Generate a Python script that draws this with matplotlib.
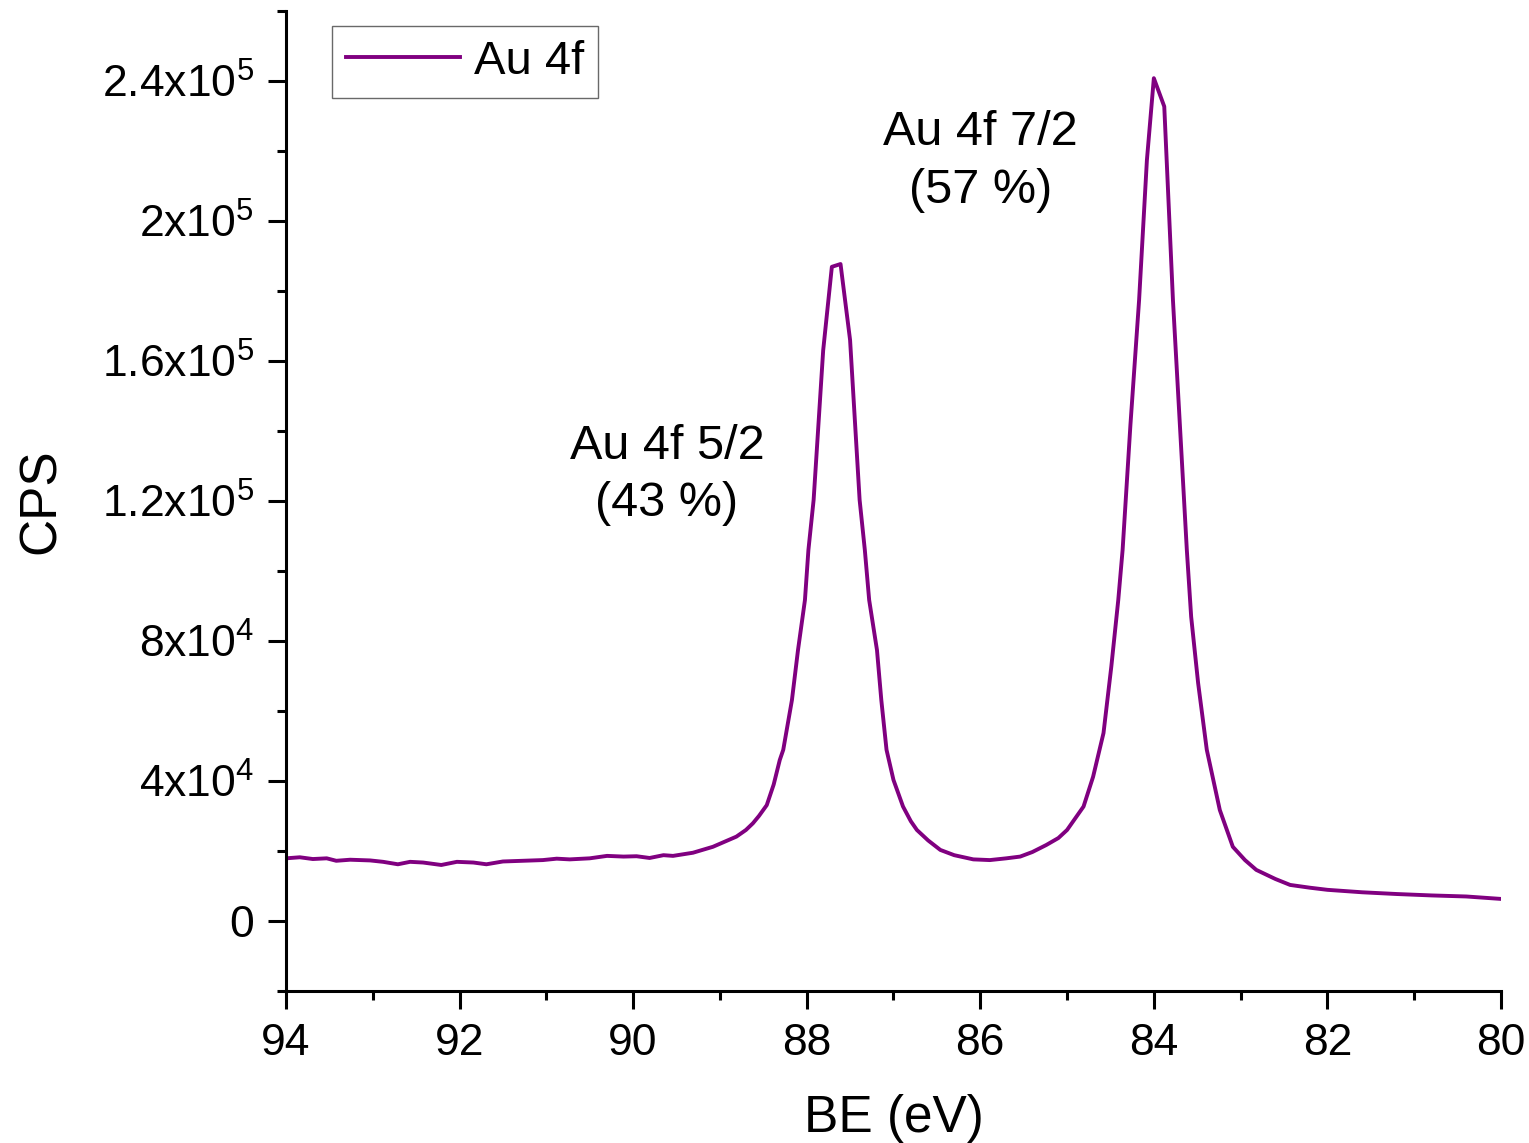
import matplotlib
matplotlib.use("Agg")
import matplotlib.pyplot as plt
from matplotlib.ticker import MultipleLocator, FixedLocator

plt.rcParams['font.family'] = ['Liberation Sans', 'DejaVu Sans']
plt.rcParams['mathtext.fontset'] = 'custom'
plt.rcParams['mathtext.rm'] = 'Liberation Sans'
plt.rcParams['mathtext.it'] = 'Liberation Sans'

# binding energy (eV) and counts
be = [94.00, 93.84, 93.69, 93.53, 93.42, 93.26, 93.03, 92.88, 92.71, 92.57,
      92.42, 92.21, 92.03, 91.84, 91.69, 91.50, 91.27, 91.04, 90.88, 90.73,
      90.50, 90.30, 90.11, 89.96, 89.81, 89.65, 89.54, 89.31, 89.08, 88.81,
      88.70, 88.62, 88.55, 88.46, 88.38, 88.31, 88.27, 88.17, 88.10, 88.02,
      87.98, 87.92, 87.81, 87.71, 87.61, 87.50, 87.39, 87.33, 87.28, 87.19,
      87.14, 87.08, 87.00, 86.89, 86.80, 86.73, 86.60, 86.46, 86.30, 86.08,
      85.89, 85.70, 85.54, 85.40, 85.24, 85.10, 85.00, 84.81, 84.70, 84.58,
      84.49, 84.41, 84.36, 84.27, 84.17, 84.08, 84.00, 83.88, 83.78, 83.70,
      83.62, 83.57, 83.49, 83.39, 83.24, 83.09, 82.95, 82.82, 82.60, 82.43,
      82.20, 82.00, 81.60, 81.20, 80.80, 80.40, 80.00]
cps = [17900, 18200, 17700, 17900, 17200, 17500, 17300, 16900, 16200, 16900,
       16700, 16000, 16900, 16700, 16200, 17000, 17200, 17400, 17800, 17600,
       17900, 18600, 18400, 18500, 18000, 18800, 18600, 19500, 21200, 24100,
       26000, 27900, 30000, 33100, 39000, 46000, 48900, 63100, 77400, 91700,
       106000, 120300, 163000, 186900, 187700, 166000, 120300, 106000, 91700, 77400,
       63100, 48900, 40300, 32700, 28500, 26000, 23000, 20300, 18800, 17600,
       17400, 17900, 18400, 19700, 21700, 23700, 26000, 32700, 41200, 53700,
       72700, 91700, 106000, 141700, 177400, 217400, 240800, 232700, 177400, 141700,
       106000, 86900, 68000, 48900, 31700, 21200, 17400, 14600, 12000, 10300,
       9500, 8900, 8200, 7700, 7300, 7000, 6300]

ytick_vals = [0, 4e4, 8e4, 1.2e5, 1.6e5, 2e5, 2.4e5]
ytick_labels = ['0', r'4x10$^4$', r'8x10$^4$', r'1.2x10$^5$', r'1.6x10$^5$',
                r'2x10$^5$', r'2.4x10$^5$']

fig = plt.figure(figsize=(15.29, 11.43), dpi=100)
ax = fig.add_axes([0.187, 0.133, 0.7947, 0.8574])

ax.plot(be, cps, color='#800080', lw=2.8, label='Au 4f')

ax.set_xlim(94, 80)
ax.set_ylim(-2e4, 2.6e5)
ax.xaxis.set_major_locator(MultipleLocator(2))
ax.xaxis.set_minor_locator(MultipleLocator(1))
ax.yaxis.set_major_locator(FixedLocator(ytick_vals))
ax.set_yticklabels(ytick_labels)
ax.yaxis.set_minor_locator(MultipleLocator(2e4))

for s in ['top', 'right']:
    ax.spines[s].set_visible(False)
for s in ['left', 'bottom']:
    ax.spines[s].set_linewidth(2.2)

ax.tick_params(which='major', direction='out', length=13, width=2.2,
               labelsize=32, pad=10)
ax.tick_params(which='minor', direction='out', length=6.5, width=2.2)

ax.set_xlabel('BE (eV)', fontsize=37, labelpad=22)
ax.set_ylabel('CPS', fontsize=37, labelpad=26)

ax.text(89.61, 1.274e5, 'Au 4f 5/2\n(43 %)', fontsize=35, ha='center',
        va='center', linespacing=1.35)
ax.text(86.0, 2.17e5, 'Au 4f 7/2\n(57 %)', fontsize=35, ha='center',
        va='center', linespacing=1.35)

leg = ax.legend(loc='upper left', bbox_to_anchor=(0.038, 0.985), fontsize=34,
                frameon=True, fancybox=False, handlelength=2.4,
                borderpad=0.3, handletextpad=0.3, borderaxespad=0)
leg.get_frame().set_edgecolor('#444444')
leg.get_frame().set_linewidth(1.0)

fig.savefig('out.png', dpi=100)
